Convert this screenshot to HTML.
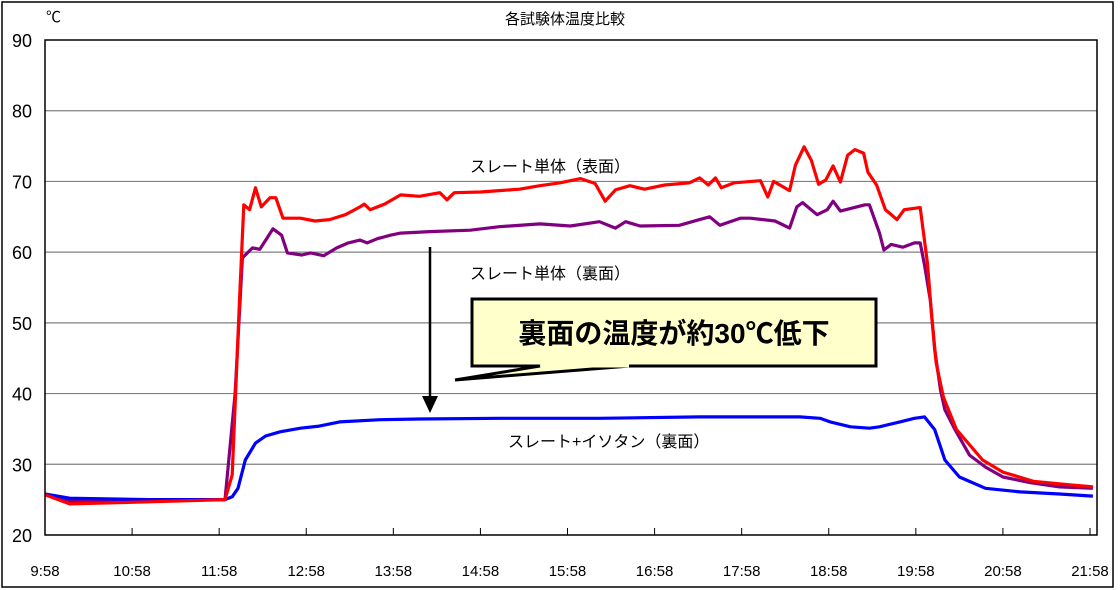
<!DOCTYPE html>
<html><head><meta charset="utf-8"><style>
body{margin:0;background:#fff;}
svg{display:block;font-family:"Liberation Sans","Noto Sans CJK JP",sans-serif;}
</style></head><body>
<svg id="chart" width="1120" height="590" viewBox="0 0 1120 590">
<rect x="2" y="2" width="1111" height="585" fill="#fff" stroke="#000" stroke-width="1.5"/>
<text x="565" y="24" font-size="15" text-anchor="middle">各試験体温度比較</text>
<text x="46" y="22" font-size="15">℃</text>
<g id="grid"></g>
<g id="ylabels"></g>
<g id="xlabels"></g>
<g id="series"></g>
<rect x="45" y="40" width="1052" height="495" fill="none" stroke="#000" stroke-width="1.5"/>
<text x="470" y="172" font-size="16">スレート単体（表面）</text>
<text x="470" y="279" font-size="16">スレート単体（裏面）</text>
<text x="508" y="447" font-size="16">スレート+イソタン（裏面）</text>
<g>
<line x1="430" y1="247" x2="430" y2="398" stroke="#000" stroke-width="2.5"/>
<polygon points="422,396 438,396 430,413" fill="#000"/>
</g>
<g>
<polygon points="472,299 876,299 876,366 630,366 455,380 540,366 472,366" fill="#ffffcc" stroke="#000" stroke-width="3"/>
<line x1="541" y1="366" x2="629" y2="366" stroke="#ffffcc" stroke-width="3"/>
<text x="674" y="343" font-size="28" font-weight="bold" text-anchor="middle">裏面の温度が約30℃低下</text>
</g>
</svg>
<script>
const yTicks=[20,30,40,50,60,70,80,90];
const xTickLabels=["9:58","10:58","11:58","12:58","13:58","14:58","15:58","16:58","17:58","18:58","19:58","20:58","21:58"];
const redMin=[0,17,72,124,129,134,137,141,145,149,155,159,164,176,186,196,207,217,220,224,234,245,258,272,277,282,300,313,327,341,355,369,379,386,393,403,413,427,444,451,457,462,466,475,493,498,502,513,517,523,528,533,538,543,548,553,558,564,567,573,579,587,592,603,608,611,614,619,628,646,660,681,706,722];
const redVal=[25.7,24.4,24.7,25.0,28.5,53.2,66.7,66.0,69.1,66.4,67.7,67.7,64.8,64.8,64.4,64.6,65.3,66.4,66.8,66.0,66.8,68.1,67.9,68.4,67.4,68.4,68.5,68.7,68.9,69.4,69.8,70.4,69.7,67.2,68.8,69.4,68.9,69.5,69.8,70.5,69.5,70.5,69.1,69.8,70.1,67.8,70.0,68.7,72.3,74.9,73.0,69.6,70.2,72.2,69.9,73.7,74.5,74.0,71.3,69.5,66.0,64.6,66.0,66.3,58.5,50.8,44.3,39.5,34.9,30.6,28.9,27.6,27.1,26.8];
const purpleMin=[0,17,72,124,131,136,143,148,153,157,163,167,177,183,192,201,209,217,222,229,238,245,265,293,313,341,362,382,393,400,410,437,451,458,465,479,486,503,513,518,522,532,539,543,548,565,568,575,578,583,591,599,603,606,610,613,617,620,627,637,648,660,679,699,722];
const purpleVal=[25.7,24.8,24.9,25.0,40.0,59.2,60.6,60.4,62.0,63.3,62.4,59.9,59.6,59.9,59.5,60.6,61.3,61.7,61.3,61.9,62.4,62.7,62.9,63.1,63.6,64.0,63.7,64.3,63.4,64.3,63.7,63.8,64.6,65.0,63.8,64.8,64.8,64.4,63.4,66.4,67.0,65.3,66.0,67.2,65.8,66.7,66.7,62.7,60.3,61.1,60.7,61.3,61.3,58.2,53.2,46.2,40.5,37.7,34.9,31.3,29.6,28.2,27.4,26.8,26.6];
const blueMin=[0,17,72,124,129,133,138,145,152,162,176,189,203,231,258,313,382,451,520,534,541,555,568,575,589,599,606,613,620,630,648,672,699,722];
const blueVal=[25.8,25.2,25.0,25.0,25.4,26.6,30.6,33.0,34.0,34.6,35.1,35.4,36.0,36.3,36.4,36.5,36.5,36.7,36.7,36.5,36.0,35.3,35.1,35.3,36.0,36.5,36.7,34.9,30.6,28.2,26.6,26.1,25.8,25.5];

const NS="http://www.w3.org/2000/svg";
const X0=45,XW=1045,Y0=535,YH=495;
function xs(m){return X0+m/720*XW;}
function ys(v){return Y0-(v-20)/70*YH;}
function mk(tag,attrs,parent){const e=document.createElementNS(NS,tag);for(const k in attrs)e.setAttribute(k,attrs[k]);parent.appendChild(e);return e;}
const grid=document.getElementById('grid'),yl=document.getElementById('ylabels'),xl=document.getElementById('xlabels'),sg=document.getElementById('series');
yTicks.forEach(v=>{
  if(v>20&&v<90){const g=mk('line',{x1:45,x2:1097,y1:ys(v),y2:ys(v),stroke:'#808080','stroke-width':1.2},grid);
  
  }
  const t=mk('text',{x:32,y:ys(v)+7,'font-size':18,'text-anchor':'end'},yl);
  t.textContent=v;
  
  
});
xTickLabels.forEach((s,i)=>{
  const x=xs(i*60);
  const tk=mk('line',{x1:x,x2:x,y1:528,y2:535,stroke:'#000','stroke-width':1},xl);
  
  
  const t=mk('text',{x:x,y:576,'font-size':15,'text-anchor':'middle'},xl);
  t.textContent=s;
  
  
});
function line(mins,vals,color,name){
  const p=mins.map((m,i)=>xs(m).toFixed(1)+','+ys(vals[i]).toFixed(1)).join(' ');
  const l=mk('polyline',{points:p,fill:'none',stroke:color,'stroke-width':3.2,'stroke-linejoin':'round'},sg);
  
  
}
line(purpleMin,purpleVal,'#800080','series-slate-back');
line(blueMin,blueVal,'#0000ff','series-slate-isotan-back');
line(redMin,redVal,'#ff0000','series-slate-surface');
</script>
</body></html>
